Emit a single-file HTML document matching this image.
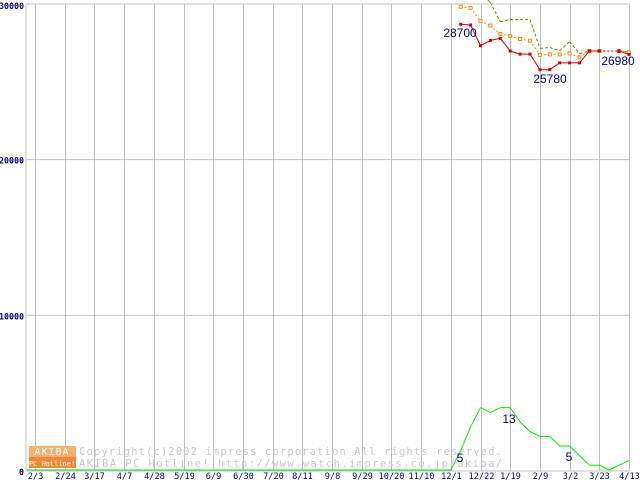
<!DOCTYPE html>
<html><head><meta charset="utf-8"><style>
html,body{margin:0;padding:0;background:#fff;}
svg{display:block;font-family:"DejaVu Sans Mono","Liberation Mono",monospace;}
</style></head><body>
<svg id="chart" width="640" height="480" viewBox="0 0 640 480" xmlns="http://www.w3.org/2000/svg">
<g id="grid"></g>
<g id="wm">
  <rect x="29" y="446" width="47" height="11" fill="#f8b070"/>
  <rect x="29" y="457" width="47" height="11" fill="#f08838"/>
  <text x="52" y="455" font-size="10" fill="#fff" text-anchor="middle" letter-spacing="1">AKIBA</text>
  <text x="52" y="466" font-size="7" fill="#fff" text-anchor="middle">PC Hotline!</text>
  <text x="79" y="455" font-size="10.5" fill="#c8c8c8" textLength="423">Copyright(c)2002 impress corporation All rights reserved.</text>
  <text x="79" y="467" font-size="10.5" fill="#c8c8c8" textLength="423">AKIBA PC Hotline! http://www.watch.impress.co.jp/akiba/</text>
</g>
<g id="series"></g>
<g id="labels"></g>
</svg>
<script>
const xLabels = ["2/3","2/24","3/17","4/7","4/28","5/19","6/9","6/30","7/20","8/11","9/8","9/29","10/20","11/10","12/1","12/22","1/19","2/9","3/2","3/23","4/13"];
const yTicks = [0,10000,20000,30000];
const firstWeek = 43;
const redPrices = [28700,28650,27320,27660,27790,26980,26780,26780,25780,25780,26220,26220,26220,26980,26980,null,26980,26760];
const orangePrices = [29820,29740,28900,28620,28070,27940,27750,27640,26720,26760,26760,26820,26570,26980,26980,null,26980,26900];
const olivePrices = [null,null,30700,30100,28860,29000,29000,29000,27150,27210,26990,27580,26820,26980,26980,null,26980,26900];
const countStart = 42;
const counts = [0,4,9,13,12,13,13,10,8,7,7,5,5,3,1,1,0,1,2];
const annotations = [["28700",460,37],["25780",550,83],["26980",618,65]];
const countAnnotations = [["5",460,462],["13",509,423],["5",569,461]];

const NS="http://www.w3.org/2000/svg";
const X0=35, WK=9.9, Y0=471, PY=467/30000, CY=4.8;
function xw(w){return X0+w*WK;}
function yp(v){return Y0-v*PY;}
function yc(v){return Y0-v*CY;}
function mk(tag,attrs,parent){const e=document.createElementNS(NS,tag);for(const k in attrs)e.setAttribute(k,attrs[k]);parent.appendChild(e);return e;}
const grid=document.getElementById('grid'), ser=document.getElementById('series'), lab=document.getElementById('labels');

yTicks.forEach(v=>{
  const l=mk('line',{x1:26,x2:629,y1:yp(v),y2:yp(v),stroke:'#c0c0c0','stroke-width':1},grid);
  
  
  const s=String(v);
  const t=mk('text',{x:24,y:yp(v)+(v===30000?5:4),'font-size':9,fill:'#000080','text-anchor':'end','font-weight':'bold',textLength:s.length*5,lengthAdjust:'spacingAndGlyphs'},lab);
  t.textContent=s;
  
  
});
const lb=mk('line',{x1:26,x2:26,y1:4,y2:471,stroke:'#c0c0c0'},grid);


xLabels.forEach((s,i)=>{
  const x=Math.round(xw(i*3))+0.5;
  const l=mk('line',{x1:x,x2:x,y1:4,y2:471,stroke:'#c0c0c0'},grid);
  
  
  const t=mk('text',{x:x,y:479,'font-size':9,fill:'#000080','text-anchor':'middle',textLength:s.length*5.2,lengthAdjust:'spacingAndGlyphs'},lab);
  t.textContent=s;
  
  
});

function drawSeries(vals,start,yf,color,dash,marker,name){
  const g=mk('g',{},ser);
  
  
  let prev=null;
  vals.forEach((v,i)=>{
    if(v===null)return;
    const x=xw(start+i), y=yf(v);
    if(prev){
      const gap=i-prev.i>1;
      const l=mk('line',{x1:prev.x,y1:prev.y,x2:x,y2:y,stroke:color,'stroke-width':1},g);
      if(dash||gap)l.setAttribute('stroke-dasharray',gap?'2,2':dash);
      
      
    }
    prev={x,y,i};
  });
  if(marker){
    vals.forEach((v,i)=>{
      if(v===null)return;
      const x=xw(start+i), y=yf(v);
      const r=mk('rect',{x:x-1.5,y:y-1.5,width:3,height:3,fill:marker==='fill'?color:'#fff',stroke:color,'stroke-width':marker==='fill'?0:1},g);
      
      
    });
  }
}
const clip=mk('clipPath',{id:'pc'},document.getElementById('chart'));
mk('rect',{x:26,y:0,width:614,height:472},clip);
ser.setAttribute('clip-path','url(#pc)');
const bl=mk('line',{x1:27,x2:xw(countStart),y1:Y0-1,y2:Y0-1,stroke:'#00ee00','stroke-width':1},ser);


drawSeries(counts,countStart,v=>yc(v)-1,'#00ee00',null,null,'count-series');
drawSeries(olivePrices,firstWeek,yp,'#808000','3,2',null,'olive-series');
drawSeries(orangePrices,firstWeek,yp,'#ff8800','2,2','open','orange-series');
drawSeries(redPrices,firstWeek,yp,'#cc0000',null,'fill','red-series');

annotations.concat(countAnnotations).forEach(a=>{
  const t=mk('text',{x:a[1],y:a[2],'font-size':12,fill:'#000080','text-anchor':'middle','font-family':'Liberation Sans, sans-serif'},lab);
  t.textContent=a[0];
  
  
});
</script>
</body></html>
